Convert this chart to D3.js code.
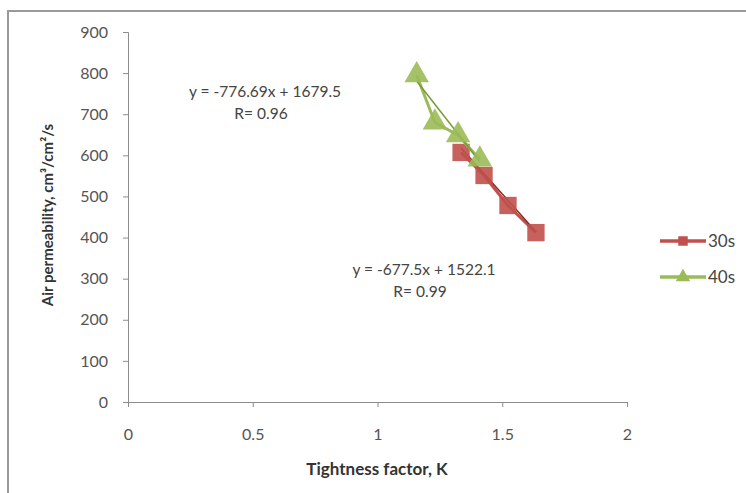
<!DOCTYPE html>
<html><head><meta charset="utf-8">
<script src="https://cdn.jsdelivr.net/npm/d3@7"></script>
<style>body{margin:0;background:#fff}svg{display:block}</style>
</head><body>
<script>
const seriesNames = ["30s", "40s"];
const k30 = [1.335, 1.427, 1.523, 1.635];
const v30 = [607, 551, 478, 412];
const k40 = [1.157, 1.23, 1.323, 1.41];
const v40 = [795, 680, 649, 590];
const trend30 = {slope: -677.5, intercept: 1522.1, label: "y = -677.5x + 1522.1", r: "R= 0.99"};
const trend40 = {slope: -776.69, intercept: 1679.5, label: "y = -776.69x + 1679.5", r: "R= 0.96"};
const xTicks = [0, 0.5, 1, 1.5, 2];
const yTicks = [0, 100, 200, 300, 400, 500, 600, 700, 800, 900];

const W = 746, H = 493;
const svg = d3.select("body").append("svg").attr("width", W).attr("height", H);
const font = "Lato, 'Open Sans', sans-serif";

// outer frame
svg.append("path").attr("d", `M8,${H} V11 H${W}`).attr("fill", "none").attr("stroke", "#9a9a9a").attr("stroke-width", 2);

const x = d3.scaleLinear().domain([0, 2]).range([128, 627]);
const y = d3.scaleLinear().domain([0, 900]).range([402, 32]);

const axisColor = "#8c8c8c";
const gx = svg.append("g").attr("transform", `translate(0,${y(0)})`)
  .call(d3.axisBottom(x).tickValues(xTicks).tickSize(5).tickPadding(22).tickFormat(d => d));
const gy = svg.append("g").attr("transform", `translate(${x(0)},0)`)
  .call(d3.axisLeft(y).tickValues(yTicks).tickSize(5).tickPadding(15));
[gx, gy].forEach(g => {
  g.select(".domain").attr("stroke", axisColor);
  g.selectAll(".tick line").attr("stroke", axisColor);
  g.selectAll(".tick text").attr("fill", "#555").attr("font-family", font).attr("font-size", 16);
});

// axis titles
svg.append("text").attr("x", 377).attr("y", 475).attr("text-anchor", "middle")
  .attr("font-family", font).attr("font-size", 17).attr("font-weight", "bold").attr("fill", "#333")
  .text("Tightness factor, K");
svg.append("text").attr("transform", "translate(53,215) rotate(-90)").attr("text-anchor", "middle")
  .attr("font-family", font).attr("font-size", 15).attr("font-weight", "bold").attr("fill", "#333")
  .text("Air permeability, cm³/cm²/s");

const red = "#c0504d", redDark = "#8e2a28", green = "#9bbb59", greenDark = "#7a9a3a";
const line = d3.line().x(d => x(d[0])).y(d => y(d[1]));

function drawSeries(ks, vs, color, trend, trendColor, marker) {
  const pts = ks.map((k, i) => [k, vs[i]]);
  svg.append("path").datum(pts).attr("d", line).attr("fill", "none").attr("stroke", color).attr("stroke-width", 3);
  const ext = d3.extent(ks);
  const tp = ext.map(k => [k, trend.slope * k + trend.intercept]);
  svg.append("path").datum(tp).attr("d", line).attr("fill", "none").attr("stroke", trendColor).attr("stroke-width", 1.5);
  const sym = d3.symbol().type(marker).size(marker === d3.symbolSquare ? 300 : 260);
  svg.append("g").selectAll("path").data(pts).join("path")
    .attr("transform", d => `translate(${x(d[0])},${y(d[1])})`)
    .attr("d", sym).attr("fill", color).attr("opacity", 0.9);
}
drawSeries(k30, v30, red, trend30, redDark, d3.symbolSquare);
drawSeries(k40, v40, green, trend40, greenDark, d3.symbolTriangle);

// trend labels
function label(cx, cy, t) {
  svg.append("text").attr("x", cx).attr("y", cy).attr("text-anchor", "middle")
    .attr("font-family", font).attr("font-size", 15.5).attr("fill", "#444").text(t.label);
  svg.append("text").attr("x", cx - 4).attr("y", cy + 22).attr("text-anchor", "middle")
    .attr("font-family", font).attr("font-size", 15.5).attr("fill", "#444").text(t.r);
}
label(265, 97, trend40);
label(424, 275, trend30);

// legend
const legend = [{name: seriesNames[0], color: red, m: d3.symbolSquare}, {name: seriesNames[1], color: green, m: d3.symbolTriangle}];
legend.forEach((d, i) => {
  const ly = 241 + i * 36;
  svg.append("line").attr("x1", 660).attr("x2", 706).attr("y1", ly).attr("y2", ly).attr("stroke", d.color).attr("stroke-width", 3.5);
  svg.append("path").attr("transform", `translate(683,${ly})`).attr("d", d3.symbol().type(d.m).size(90)).attr("fill", d.color);
  svg.append("text").attr("x", 708).attr("y", ly + 6).attr("font-family", font).attr("font-size", 17).attr("fill", "#444").text(d.name);
});
</script>
</body></html>
